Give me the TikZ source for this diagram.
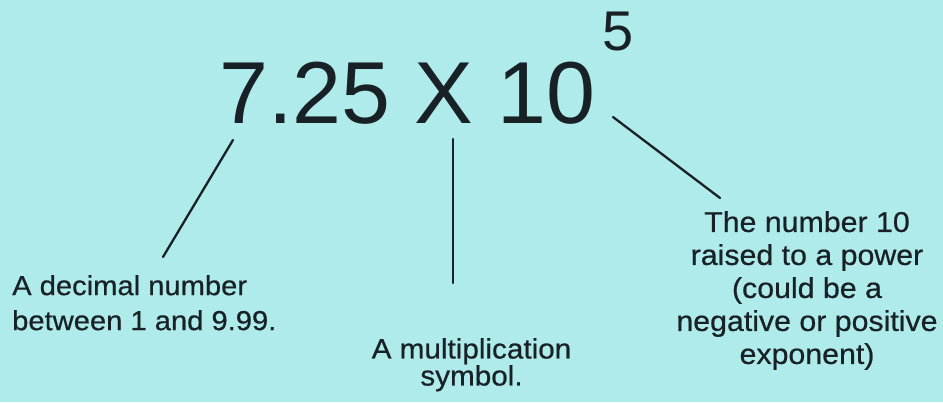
\documentclass[tikz,border=0pt]{standalone}
\usepackage{fontspec}
\setmainfont{Liberation Sans}
\newfontfamily\notefont[FakeStretch=1.06,FakeBold=0.6]{Liberation Sans}
\usetikzlibrary{positioning}

\definecolor{bgcyan}{RGB}{176,235,236}
\definecolor{ink}{RGB}{24,34,38}

\begin{document}
\begin{tikzpicture}[
    x=1pt, y=-1pt,
    bignum/.style={inner sep=0pt, text=ink, font=\fontsize{88}{88}\selectfont},
    expo/.style={inner sep=0pt, text=ink, font=\fontsize{56}{56}\selectfont},
    note/.style={inner sep=0pt, text=ink},
    pointer/.style={draw=ink, line width=2.3pt, line cap=round}
]
\fill[bgcyan] (0,0) rectangle (943,402);
\useasboundingbox (0,0) rectangle (943,402);

\node[bignum, anchor=base] (sci) at (407.5,123) {7.25 X 10};
\node[expo, anchor=base] (power) at (618,50) {5};

\node[note, anchor=north west, align=left, font=\notefont\fontsize{27.5}{35}\selectfont]
    (decimal) at (12,275) {A decimal number\\between 1 and 9.99.};
\node[note, anchor=north, align=center, font=\notefont\fontsize{28}{27}\selectfont]
    (multi) at (471.5,338) {A multiplication\\symbol.};
\node[note, anchor=north, align=center, font=\notefont\fontsize{28.6}{33}\selectfont]
    (tenpow) at (807,211) {The number 10\\raised to a power\\(could be a\\negative or positive\\exponent)};

% end points of the pointers
\coordinate (decimal-top) at (233,140);
\coordinate (decimal-end) at (163,257);
\coordinate (multi-top) at (453,139);
\coordinate (multi-end) at (453,283);
\coordinate (tenpow-top) at (613,117);
\coordinate (tenpow-end) at (720,198);

\draw[pointer] (decimal-top) -- (decimal-end);
\draw[pointer] (multi-top) -- (multi-end);
\draw[pointer] (tenpow-top) -- (tenpow-end);
\end{tikzpicture}
\end{document}
